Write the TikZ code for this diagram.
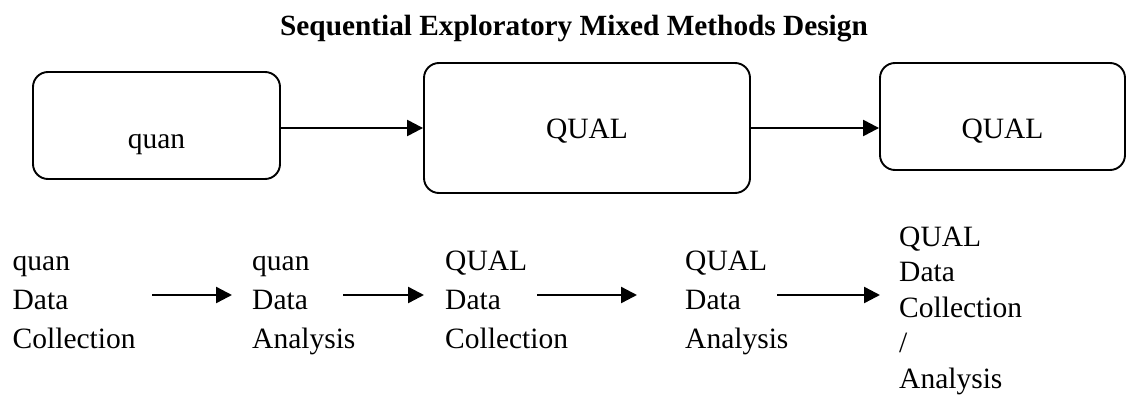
\documentclass[tikz,border=0pt]{standalone}
\usepackage{fontspec}
\setmainfont{Liberation Serif}
\usetikzlibrary{arrows.meta}

\begin{document}
\begin{tikzpicture}[x=1pt, y=-1pt,
  phase box/.style={draw, line width=1.9pt, rounded corners=15pt, inner sep=0pt},
  phase text/.style={inner sep=0pt, anchor=base, font=\fontsize{29.5}{39}\selectfont},
  step text/.style={inner sep=0pt, anchor=base west, align=left, font=\fontsize{29.5}{39}\selectfont},
  flow/.style={line width=2.4pt, -{Triangle[length=16pt, width=16pt]}}]
\useasboundingbox (0,0) rectangle (1127,396);

\node[font=\fontsize{29.3}{34}\selectfont\bfseries, anchor=base] (head) at (574,36)
  {Sequential Exploratory Mixed Methods Design};

% top row: the three phases
\node[phase box, minimum width=247pt, minimum height=107pt] (quan) at (156.5,125.5) {};
\node[phase box, minimum width=326pt, minimum height=130pt] (qual) at (587,128) {};
\node[phase box, minimum width=245pt, minimum height=107pt] (qualb) at (1002.5,116.5) {};
\node[phase text] (quanlbl) at (quan.center |- 0,148) {quan};
\node[phase text] (quallbl) at (qual.center |- 0,138) {QUAL};
\node[phase text] (qualblbl) at (qualb.center |- 0,138) {QUAL};

\draw[flow] (quan.east |- qual.west) -- (qual.west);
\draw[flow] (qual.east) -- (qualb.west |- qual.east);

% bottom row: the steps (base = last line)
\node[step text] (s1) at (12.5,348) {quan\\Data\\Collection};
\node[step text] (s2) at (252,348)  {quan\\Data\\Analysis};
\node[step text] (s3) at (445,348)  {QUAL\\Data\\Collection};
\node[step text] (s4) at (685,348)  {QUAL\\Data\\Analysis};
\node[step text, font=\fontsize{29.5}{35.5}\selectfont] (s5) at (899,388)
  {QUAL\\Data\\Collection\\/\\Analysis};

\coordinate (a1) at (152,295); \coordinate (b1) at (232,295);
\coordinate (a2) at (343,295); \coordinate (b2) at (424,295);
\coordinate (a3) at (537,295); \coordinate (b3) at (637,295);
\coordinate (a4) at (777,295); \coordinate (b4) at (880,295);
\foreach \i in {1,...,4}
  \draw[flow] (a\i) -- (b\i);
\end{tikzpicture}
\end{document}
